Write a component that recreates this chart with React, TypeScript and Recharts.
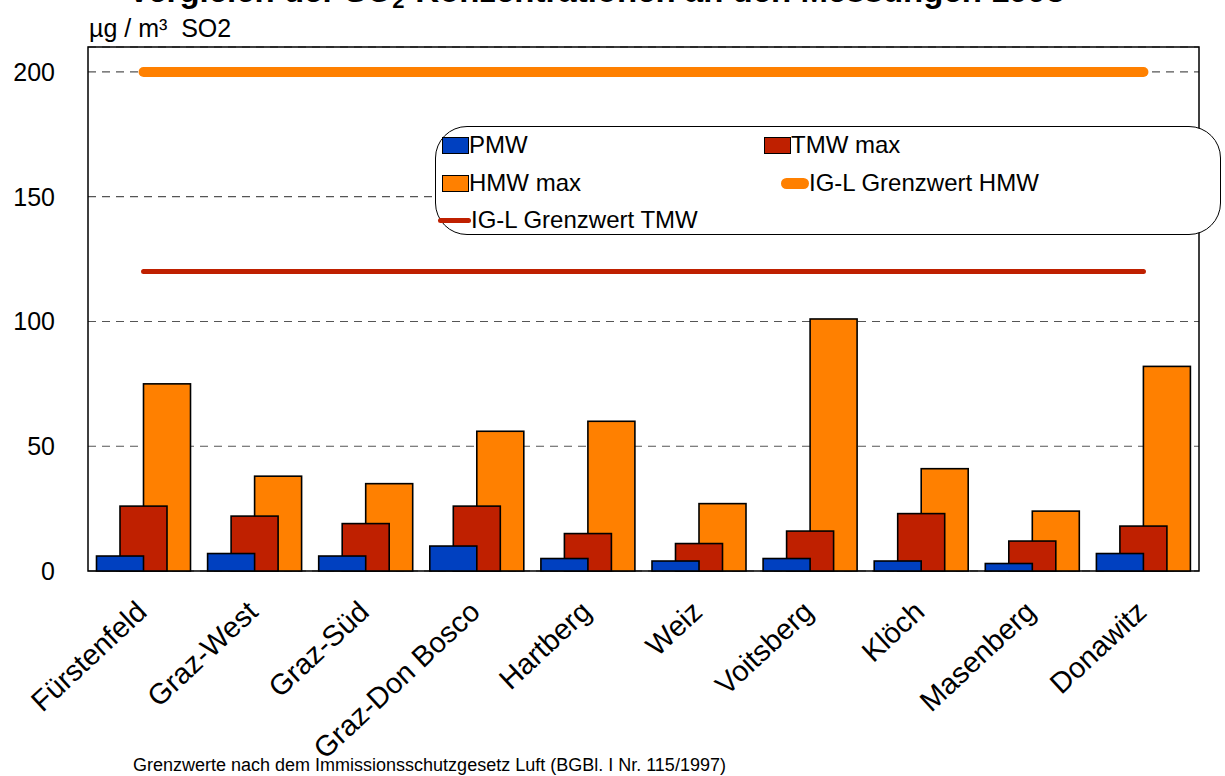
import React from "react";
import {
  ComposedChart,
  Bar,
  Line,
  XAxis,
  YAxis,
  CartesianGrid,
  Legend,
  ReferenceArea,
} from "recharts";

const stations = [
  "Fürstenfeld",
  "Graz-West",
  "Graz-Süd",
  "Graz-Don Bosco",
  "Hartberg",
  "Weiz",
  "Voitsberg",
  "Klöch",
  "Masenberg",
  "Donawitz",
];
const pmw = [6, 7, 6, 10, 5, 4, 5, 4, 3, 7];
const tmwMax = [26, 22, 19, 26, 15, 11, 16, 23, 12, 18];
const hmwMax = [75, 38, 35, 56, 60, 27, 101, 41, 24, 82];
const hmwLimit = 200;
const tmwLimit = 120;
const yTicks = [0, 50, 100, 150, 200];

const BLUE = "#0040C0";
const RED = "#BF2000";
const ORANGE = "#FF8000";
const FONT = "'Liberation Sans', Arial, Helvetica, sans-serif";

const data = stations.map((name, i) => ({
  name,
  pmw: pmw[i],
  tmwMax: tmwMax[i],
  hmwMax: hmwMax[i],
  hmwLimit,
  tmwLimit,
}));

// bars overlap by half their width, the left one drawn on top
const shiftedBar = (shift: number) => (props: any) => {
  const { x, y, width, height, fill } = props;
  if (!height) return <g />;
  return (
    <rect
      x={x + (shift * width) / 2}
      y={y}
      width={width}
      height={height}
      fill={fill}
      stroke="#000"
      strokeWidth={1.6}
    />
  );
};

const XTick = (props: any) => {
  const { x, y, payload } = props;
  const tx = x + 5;
  const ty = y + 41;
  return (
    <text
      x={tx}
      y={ty}
      textAnchor="end"
      transform={`rotate(-43, ${tx}, ${ty})`}
      fontSize={29}
      fontFamily={FONT}
      fill="#000"
    >
      {payload.value}
    </text>
  );
};

const legendItems = [
  { label: "PMW", kind: "box", color: BLUE, left: 6, top: 18 },
  { label: "TMW max", kind: "box", color: RED, left: 328, top: 18 },
  { label: "HMW max", kind: "box", color: ORANGE, left: 6, top: 56 },
  { label: "IG-L Grenzwert HMW", kind: "thick", color: ORANGE, left: 345, top: 56 },
  { label: "IG-L Grenzwert TMW", kind: "thin", color: RED, left: 2, top: 93 },
];

const LegendBox = () => (
  <div
    style={{
      position: "relative",
      width: 786,
      height: 109,
      background: "#fff",
      border: "1.5px solid #000",
      borderRadius: 32,
      boxSizing: "border-box",
      fontFamily: FONT,
      fontSize: 24,
      color: "#000",
    }}
  >
    {legendItems.map((it) => {
      let marker: React.ReactNode;
      let mw = 0;
      if (it.kind === "box") {
        mw = 27;
        marker = (
          <div
            style={{
              width: 25,
              height: 15,
              background: it.color,
              border: "1.5px solid #000",
            }}
          />
        );
      } else if (it.kind === "thick") {
        mw = 28;
        marker = (
          <div style={{ width: 28, height: 11, background: it.color, borderRadius: 6 }} />
        );
      } else {
        mw = 33;
        marker = (
          <div style={{ width: 33, height: 5, background: it.color, borderRadius: 3 }} />
        );
      }
      return (
        <div
          key={it.label}
          style={{
            position: "absolute",
            left: it.left,
            top: it.top,
            transform: "translateY(-50%)",
            display: "flex",
            alignItems: "center",
            whiteSpace: "nowrap",
          }}
        >
          <div style={{ width: mw, display: "flex", alignItems: "center" }}>{marker}</div>
          <span style={{ lineHeight: "28px" }}>{it.label}</span>
        </div>
      );
    })}
  </div>
);

export default function App() {
  return (
    <div
      style={{
        position: "absolute",
        left: 0,
        top: 0,
        width: 1225,
        height: 776,
        overflow: "hidden",
        background: "#fff",
        fontFamily: FONT,
      }}
    >
      <ComposedChart
        width={1225}
        height={776}
        data={data}
        margin={{ top: 47, right: 26, left: 0, bottom: 0 }}
        barSize={47}
        barGap={-47}
        barCategoryGap={0}
      >
        <CartesianGrid
          horizontal
          vertical={false}
          stroke="#555"
          strokeDasharray="8 6"
          strokeWidth={1.2}
        />
        <XAxis
          dataKey="name"
          height={205}
          interval={0}
          tickLine={false}
          tickSize={0}
          axisLine={false}
          tick={<XTick />}
        />
        <YAxis
          width={88}
          domain={[0, 210]}
          ticks={yTicks}
          tickLine={false}
          tickSize={0}
          tickMargin={33}
          axisLine={false}
          tick={{ fontSize: 25, fill: "#000", fontFamily: FONT }}
        />
        <ReferenceArea
          y1={0}
          y2={210}
          fill="none"
          stroke="#000"
          strokeWidth={1.5}
          ifOverflow="visible"
        />
        <Bar dataKey="hmwMax" name="HMW max" fill={ORANGE} shape={shiftedBar(1)} isAnimationActive={false} />
        <Bar dataKey="tmwMax" name="TMW max" fill={RED} shape={shiftedBar(0)} isAnimationActive={false} />
        <Bar dataKey="pmw" name="PMW" fill={BLUE} shape={shiftedBar(-1)} isAnimationActive={false} />
        <Line
          type="linear"
          dataKey="hmwLimit"
          name="IG-L Grenzwert HMW"
          stroke={ORANGE}
          strokeWidth={10}
          strokeLinecap="round"
          dot={false}
          activeDot={false}
          isAnimationActive={false}
        />
        <Line
          type="linear"
          dataKey="tmwLimit"
          name="IG-L Grenzwert TMW"
          stroke={RED}
          strokeWidth={5}
          strokeLinecap="round"
          dot={false}
          activeDot={false}
          isAnimationActive={false}
        />
        <Legend
          layout="horizontal"
          align="center"
          verticalAlign="middle"
          content={() => <LegendBox />}
          wrapperStyle={{ position: "absolute", left: 435, top: 126, width: 786, height: 109 }}
        />
      </ComposedChart>
      <svg
        width={1225}
        height={776}
        style={{ position: "absolute", left: 0, top: 0, pointerEvents: "none" }}
      >
        <text x={128} y={2} fontSize={33} fontWeight="bold" fontFamily={FONT} fill="#000">
          Vergleich der SO<tspan fontSize={22} dy={6}>2</tspan>
          <tspan dy={-6}>-Konzentrationen an den Messungen 1998</tspan>
        </text>
        <text
          x={89}
          y={37}
          fontSize={25}
          fontFamily={FONT}
          fill="#000"
          style={{ whiteSpace: "pre" }}
        >
          {"µg / m³  SO2"}
        </text>
        <text x={133} y={771} fontSize={18} fontFamily={FONT} fill="#000">
          Grenzwerte nach dem Immissionsschutzgesetz Luft (BGBl. I Nr. 115/1997)
        </text>
      </svg>
    </div>
  );
}
